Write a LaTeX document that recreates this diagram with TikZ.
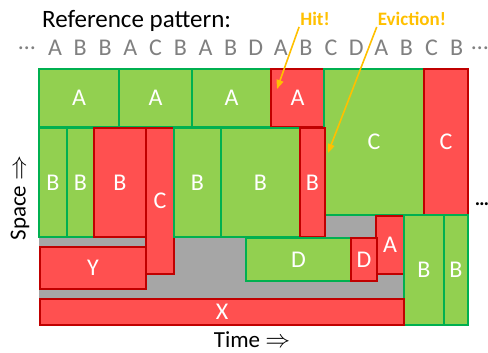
\documentclass[tikz,border=0pt]{standalone}
\usepackage{fontspec}
\setmainfont{Carlito}
\usetikzlibrary{arrows.meta,positioning}

\definecolor{hitgreen}{HTML}{92D050}
\definecolor{hitline}{HTML}{00B050}
\definecolor{missred}{HTML}{FF5050}
\definecolor{missline}{HTML}{C00000}
\definecolor{freegray}{HTML}{A6A6A6}
\definecolor{callout}{HTML}{FFC000}
\definecolor{pattxt}{HTML}{808080}

\begin{document}
\begin{tikzpicture}[x=1pt, y=-1pt,
		blk/.style = {rectangle, inner sep=0pt, line width=1.1pt, text=white,
			font=\fontsize{24}{26}\selectfont},
		gbox/.style = {blk, fill=hitgreen, draw=hitline},
		rbox/.style = {blk, fill=missred, draw=missline},
		pat/.style = {text=pattxt, font=\fontsize{24}{26}\selectfont},
		note/.style = {text=callout, font=\fontsize{19}{21}\selectfont\bfseries, inner sep=1pt},
		arr/.style = {-{Triangle[length=9pt,width=7pt]}, callout, line width=1.6pt},
		axis/.style = {font=\fontsize{23}{25}\selectfont, inner sep=0pt}
		]
		\useasboundingbox (0,0) rectangle (488,353);
		
		% free space behind the blocks
		\fill[freegray] (39,215) rectangle (404,298);
		
		% title and access pattern
		\node[axis, font=\fontsize{25}{27}\selectfont, anchor=base west] (title) at (42,28) {Reference pattern:};
		\node[pat] (dl) at (27,48) {\dots};
		\foreach \c [count=\i from 0] in {A,B,B,A,C,B,A,B,D,A,B,C,D,A,B,C,B}
			\node[pat] (p\i) at (55+25.1*\i,48) {\c};
		\node[pat] (dr) at (480,48) {\dots};
		
		% first row
		\node (a1) [gbox, minimum width=80, minimum height=58] at (79,98)    {A};
		\node (a2) [gbox, minimum width=73, minimum height=58] at (155.5,98) {A};
		\node (a3) [gbox, minimum width=79, minimum height=58] at (231.5,98) {A};
		\node (ar) [rbox, minimum width=53, minimum height=58] at (297.5,98) {A};
		\node (cg) [gbox, minimum width=100, minimum height=146] at (374,142) {C};
		\node (cr) [rbox, minimum width=44, minimum height=146] at (446,142) {C};
		
		% second row
		\node (b1) [gbox, minimum width=28, minimum height=109] at (53,182.5)    {B};
		\node (b2) [gbox, minimum width=27, minimum height=109] at (80.5,182.5)  {B};
		\node (br) [rbox, minimum width=52, minimum height=109] at (120,182.5)   {B};
		\node (cs) [rbox, minimum width=28, minimum height=146] at (160,201)     {C};
		\node (b3) [gbox, minimum width=47, minimum height=109] at (197.5,182.5) {B};
		\node (b4) [gbox, minimum width=79, minimum height=109] at (260.5,182.5) {B};
		\node (bs) [rbox, minimum width=25, minimum height=109] at (312.5,182.5) {B};
		
		% lower blocks
		\node (as) [rbox, minimum width=28, minimum height=58]  at (390,245)     {A};
		\node (dg) [gbox, minimum width=105, minimum height=43] at (298.5,259.5) {D};
		\node (dd) [rbox, minimum width=26, minimum height=43]  at (364,259.5)   {D};
		\node (b5) [gbox, minimum width=40, minimum height=110] at (424,270)     {B};
		\node (b6) [gbox, minimum width=24, minimum height=110] at (456,270)     {B};
		\node (y)  [rbox, minimum width=106, minimum height=42] at (93,268)      {Y};
		\node (x)  [rbox, minimum width=364, minimum height=26] at (222,312)     {X};
		
		\node (more) at (482,204) {\fontsize{20}{22}\selectfont\bfseries\dots};
		
		% callouts
		\node[note] (hit) at (315,19) {Hit!};
		\node[note] (evict) at (412,19) {Eviction!};
		\coordinate (hitend) at (277,89);
		\coordinate (evictend) at (328,153);
		\draw[arr] (hit.south west) -- (hitend);
		\draw[arr] (evict.south west) -- (evictend);
		
		% axes
		\node[axis, rotate=90] (space) at (20,198) {Space $\Rightarrow$};
		\node[axis, anchor=base] (time) at (252,347) {Time $\Rightarrow$};
		
		\end{tikzpicture}
\end{document}
